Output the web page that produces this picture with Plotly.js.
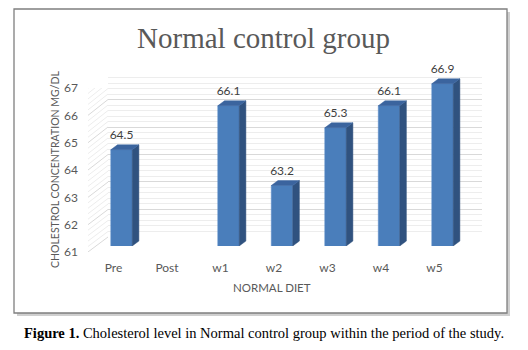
<!DOCTYPE html>
<html>
<head>
<meta charset="utf-8">
<script src="https://cdn.plot.ly/plotly-3.0.1.min.js"></script>
<style>html,body{margin:0;padding:0;background:#fff;}#chart{width:528px;height:350px;}</style>
</head>
<body>
<div id="chart"></div>
<script>
// ---- data ----
const categories = ["Pre", "Post", "w1", "w2", "w3", "w4", "w5"];
const values = [64.5, null, 66.1, 63.2, 65.3, 66.1, 66.9];
const valueLabels = ["64.5", "", "66.1", "63.2", "65.3", "66.1", "66.9"];
const yTicks = [61, 62, 63, 64, 65, 66, 67];

// ---- geometry helpers (pixel -> paper fraction) ----
const W = 528, H = 350;
const fx = px => px / W;
const fy = py => (H - py) / H;

const idx = categories.map((c, i) => i);
const barW = 0.4, dx = 0.125, dy = 0.18;

// side & top faces of 3D columns, built from the values
const sideX = [], sideY = [], topX = [], topY = [];
const labX = [], labY = [], labT = [];
values.forEach((v, i) => {
  if (v === null) return;
  const l = i - barW / 2, r = i + barW / 2;
  sideX.push(r, r + dx, r + dx, r, r, null);
  sideY.push(61, 61 + dy, v + dy, v, 61, null);
  topX.push(l, l + dx, r + dx, r, l, null);
  topY.push(v, v + dy, v + dy, v, v, null);
  labX.push(i); labY.push(v + dy * 1.5); labT.push(valueLabels[i]);
});

// side wall diagonal grid lines
const majX = [], majY = [], minX = [], minY = [];
for (let k = 0; k <= 30; k++) {
  const v = 61 + k * 0.2;
  const pyBack = 237 - (v - 61) * 27.5;
  const vEnd = 61 + (252 - pyBack) / ((252 - 88) / 6);
  const tgtX = (k % 5 === 0) ? majX : minX;
  const tgtY = (k % 5 === 0) ? majY : minY;
  tgtX.push(0, 1, null); tgtY.push(v, vEnd, null);
}

const tickFont = {family: "Lato, 'Open Sans', sans-serif", size: 12, color: "#595959"};

const traces = [
  // back wall (xy) - empty trace so the subplot is drawn
  {x: [0, 1], y: [null, null], xaxis: "x", yaxis: "y", mode: "lines", hoverinfo: "skip", showlegend: false},
  // front columns (x2y2)
  {type: "bar", x: idx, y: values, width: barW, xaxis: "x2", yaxis: "y2",
   marker: {color: "#4a7ebb", line: {color: "#5a8cc8", width: 0.6}}, hoverinfo: "x+y", showlegend: false},
  {x: sideX, y: sideY, xaxis: "x2", yaxis: "y2", mode: "lines", fill: "toself",
   fillcolor: "#30527f", line: {color: "#30527f", width: 0.5}, hoverinfo: "skip", showlegend: false},
  {x: topX, y: topY, xaxis: "x2", yaxis: "y2", mode: "lines", fill: "toself",
   fillcolor: "#3b649e", line: {color: "#3b649e", width: 0.5}, hoverinfo: "skip", showlegend: false},
  {x: labX, y: labY, text: labT, xaxis: "x2", yaxis: "y2", mode: "text", textposition: "top center",
   textfont: {family: "Lato, 'Open Sans', sans-serif", size: 12, color: "#404040"}, cliponaxis: false,
   hoverinfo: "skip", showlegend: false},
  // side wall (x3y3)
  {x: minX, y: minY, xaxis: "x3", yaxis: "y3", mode: "lines", line: {color: "#ededed", width: 1},
   hoverinfo: "skip", showlegend: false},
  {x: majX, y: majY, xaxis: "x3", yaxis: "y3", mode: "lines", line: {color: "#d9d9d9", width: 1},
   hoverinfo: "skip", showlegend: false}
];

const hidden = {showgrid: false, zeroline: false, showline: false, showticklabels: false, ticks: "", fixedrange: true};

const layout = {
  width: W, height: H,
  margin: {l: 0, r: 0, t: 0, b: 0},
  paper_bgcolor: "#ffffff",
  plot_bgcolor: "rgba(0,0,0,0)",
  showlegend: false,
  title: {text: "Normal control group", font: {family: "'Liberation Serif', 'DejaVu Serif', serif", size: 29, color: "#595959"},
          x: fx(263.5), xanchor: "center", y: fy(38), yanchor: "middle", xref: "paper", yref: "paper"},
  xaxis: Object.assign({}, hidden, {domain: [fx(108), fx(482)], range: [0, 1], anchor: "y"}),
  yaxis: Object.assign({}, hidden, {domain: [fy(237), fy(72)], range: [60.995, 67.005], anchor: "x",
          showgrid: true, dtick: 1, tick0: 61, gridcolor: "#d9d9d9", gridwidth: 1,
          minor: {dtick: 0.2, showgrid: true, gridcolor: "#ededed", gridwidth: 1}}),
  xaxis2: Object.assign({}, hidden, {domain: [fx(94.75), fx(469.25)], range: [-0.5, 6.5], anchor: "y2",
          showticklabels: true, tickmode: "array", tickvals: idx, ticktext: categories,
          tickfont: tickFont, ticklabelshift: -8, ticklabelstandoff: 13}),
  yaxis2: Object.assign({}, hidden, {domain: [fy(246), fy(246 - 7 * 27.5)], range: [61, 68], anchor: "x2"}),
  xaxis3: Object.assign({}, hidden, {domain: [fx(88), fx(108)], range: [0, 1], anchor: "y3"}),
  yaxis3: Object.assign({}, hidden, {domain: [fy(252), fy(88)], range: [60.999, 67.001], anchor: "x3",
          showticklabels: true, tickmode: "array", tickvals: yTicks, ticktext: yTicks.map(String),
          tickfont: tickFont, ticklabelstandoff: 9}),
  shapes: [
    {type: "rect", xref: "paper", yref: "paper", x0: fx(17), x1: fx(510), y0: fy(316), y1: fy(12),
     fillcolor: "#cfcfcf", line: {width: 0}, layer: "below"},
    {type: "rect", xref: "paper", yref: "paper", x0: fx(14), x1: fx(507), y0: fy(313), y1: fy(9),
     fillcolor: "#ffffff", line: {color: "#7f7f7f", width: 1.3}, layer: "below"}
  ],
  annotations: [
    {text: "CHOLESTROL CONCENTRATION MG/DL", xref: "paper", yref: "paper", x: fx(55), y: fy(170),
     xanchor: "center", yanchor: "middle", textangle: -90, showarrow: false,
     font: {family: "Lato, 'Open Sans', sans-serif", size: 10.5, color: "#595959"}},
    {text: "NORMAL DIET", xref: "paper", yref: "paper", x: fx(272), y: fy(287),
     xanchor: "center", yanchor: "middle", showarrow: false,
     font: {family: "Lato, 'Open Sans', sans-serif", size: 11.5, color: "#595959"}},
    {text: "<b>Figure 1.</b> Cholesterol level in Normal control group within the period of the study.",
     xref: "paper", yref: "paper", x: fx(264), y: fy(333), xanchor: "center", yanchor: "middle", showarrow: false,
     font: {family: "'Liberation Serif', 'Times New Roman', serif", size: 14.5, color: "#000000"}}
  ]
};

Plotly.newPlot("chart", traces, layout, {displayModeBar: false, staticPlot: true});
</script>
</body>
</html>
